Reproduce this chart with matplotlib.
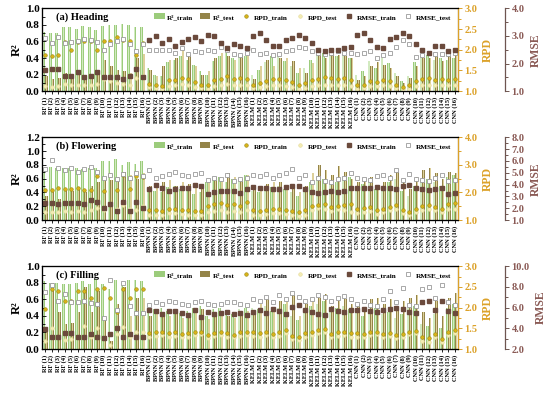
import numpy as np
import matplotlib
matplotlib.use('Agg')
from matplotlib import pyplot as plt
from matplotlib.patches import Patch
from matplotlib.lines import Line2D
from matplotlib.ticker import MultipleLocator

plt.rcParams['font.family'] = ['Liberation Serif', 'DejaVu Serif']
plt.rcParams['font.weight'] = 'bold'

# etiquetas del eje x
models = ['RF', 'BPNN', 'KELM', 'CNN']
labels = ['%s (%d)' % (m, i) for m in models for i in range(1, 17)]

# (a) Heading
a_r2_train = [0.71, 0.70, 0.70, 0.78, 0.78, 0.75, 0.79, 0.78, 0.74, 0.79, 0.80, 0.80, 0.81, 0.80, 0.77, 0.78,
              0.28, 0.20, 0.18, 0.35, 0.38, 0.42, 0.38, 0.32, 0.24, 0.20, 0.36, 0.42, 0.46, 0.40, 0.44, 0.42,
              0.20, 0.25, 0.35, 0.42, 0.44, 0.36, 0.30, 0.22, 0.28, 0.38, 0.44, 0.46, 0.45, 0.42, 0.44, 0.40,
              0.20, 0.24, 0.36, 0.28, 0.40, 0.34, 0.22, 0.12, 0.18, 0.35, 0.42, 0.44, 0.38, 0.40, 0.38, 0.40]
a_r2_test = [0.18, 0.15, 0.16, 0.22, 0.20, 0.20, 0.18, 0.20, 0.24, 0.38, 0.30, 0.26, 0.24, 0.22, 0.40, 0.45,
             0.25, 0.18, 0.30, 0.38, 0.40, 0.50, 0.44, 0.30, 0.20, 0.24, 0.40, 0.46, 0.42, 0.38, 0.44, 0.46,
             0.15, 0.30, 0.38, 0.30, 0.40, 0.40, 0.36, 0.28, 0.22, 0.34, 0.44, 0.40, 0.48, 0.44, 0.42, 0.40,
             0.14, 0.18, 0.30, 0.35, 0.32, 0.28, 0.18, 0.10, 0.16, 0.30, 0.40, 0.40, 0.42, 0.36, 0.42, 0.44]
a_rpd_train = [1.88, 1.86, 1.88, 2.18, 2.00, 2.18, 2.22, 2.20, 2.00, 2.20, 2.22, 2.32, 2.24, 2.20, 1.88, 2.16,
               1.18, 1.14, 1.12, 1.26, 1.28, 1.32, 1.30, 1.22, 1.16, 1.14, 1.26, 1.30, 1.36, 1.30, 1.32, 1.30,
               1.14, 1.20, 1.24, 1.30, 1.30, 1.26, 1.22, 1.14, 1.20, 1.26, 1.30, 1.34, 1.32, 1.30, 1.32, 1.28,
               1.14, 1.16, 1.24, 1.22, 1.26, 1.24, 1.16, 1.10, 1.14, 1.24, 1.30, 1.32, 1.28, 1.30, 1.28, 1.30]
a_rpd_test = [1.12, 1.10, 1.12, 1.18, 1.16, 1.16, 1.14, 1.16, 1.18, 1.30, 1.24, 1.20, 1.18, 1.16, 1.32, 1.36,
              1.10, 1.08, 1.06, 1.12, 1.14, 1.18, 1.14, 1.10, 1.08, 1.06, 1.12, 1.14, 1.18, 1.14, 1.16, 1.14,
              1.08, 1.10, 1.12, 1.14, 1.14, 1.12, 1.10, 1.06, 1.08, 1.12, 1.14, 1.16, 1.16, 1.14, 1.14, 1.12,
              1.06, 1.08, 1.12, 1.12, 1.14, 1.12, 1.08, 1.04, 1.06, 1.12, 1.14, 1.16, 1.14, 1.14, 1.14, 1.16]
a_rmse_train = [1.78, 1.80, 1.80, 1.54, 1.55, 1.68, 1.52, 1.55, 1.70, 1.52, 1.50, 1.50, 1.45, 1.55, 1.82, 1.52,
                2.85, 3.00, 2.75, 2.90, 2.65, 2.78, 2.88, 2.98, 2.80, 3.05, 3.00, 2.75, 2.55, 2.70, 2.62, 2.58,
                3.00, 3.10, 2.85, 2.65, 2.65, 2.85, 2.92, 3.05, 2.92, 2.75, 2.50, 2.45, 2.50, 2.50, 2.55, 2.60,
                3.05, 3.10, 2.85, 2.60, 2.55, 2.90, 2.95, 3.10, 3.00, 2.70, 2.50, 2.40, 2.62, 2.62, 2.45, 2.48]
a_rmse_test = [2.92, 2.75, 2.95, 2.75, 2.78, 2.80, 2.88, 2.85, 2.78, 2.50, 2.70, 2.82, 2.90, 2.72, 2.45, 2.72,
               2.50, 2.50, 2.48, 2.48, 2.40, 2.55, 2.35, 2.45, 2.42, 2.50, 2.45, 2.60, 2.50, 2.35, 2.30, 2.38,
               2.50, 2.35, 2.40, 2.30, 2.35, 2.45, 2.50, 2.60, 2.55, 2.45, 2.40, 2.35, 2.40, 2.45, 2.40, 2.40,
               2.35, 2.40, 2.45, 2.20, 2.30, 2.40, 2.60, 2.85, 2.70, 2.25, 2.30, 2.40, 2.35, 2.35, 2.35, 2.40]

# (b) Flowering
b_r2_train = [0.76, 0.77, 0.75, 0.76, 0.75, 0.76, 0.74, 0.76, 0.75, 0.86, 0.85, 0.88, 0.80, 0.84, 0.82, 0.86,
              0.45, 0.42, 0.40, 0.48, 0.50, 0.45, 0.42, 0.38, 0.40, 0.55, 0.60, 0.62, 0.55, 0.60, 0.58, 0.65,
              0.42, 0.40, 0.45, 0.48, 0.50, 0.45, 0.40, 0.35, 0.42, 0.55, 0.58, 0.60, 0.52, 0.55, 0.58, 0.62,
              0.48, 0.52, 0.55, 0.45, 0.50, 0.55, 0.60, 0.42, 0.35, 0.50, 0.58, 0.60, 0.55, 0.50, 0.62, 0.66]
b_r2_test = [0.35, 0.40, 0.30, 0.45, 0.42, 0.48, 0.40, 0.50, 0.55, 0.60, 0.58, 0.62, 0.70, 0.65, 0.60, 0.68,
             0.50, 0.52, 0.55, 0.58, 0.50, 0.55, 0.52, 0.48, 0.50, 0.60, 0.62, 0.58, 0.68, 0.62, 0.60, 0.65,
             0.48, 0.50, 0.52, 0.55, 0.55, 0.50, 0.45, 0.40, 0.50, 0.68, 0.80, 0.72, 0.65, 0.78, 0.70, 0.60,
             0.55, 0.60, 0.62, 0.50, 0.55, 0.65, 0.70, 0.58, 0.45, 0.62, 0.72, 0.75, 0.68, 0.60, 0.70, 0.68]
b_rpd_train = [2.10, 2.08, 2.15, 2.12, 2.12, 2.15, 2.10, 2.10, 2.60, 2.05, 2.62, 2.10, 2.65, 2.12, 2.60, 2.55,
               1.35, 1.35, 1.32, 1.40, 1.42, 1.38, 1.35, 1.32, 1.32, 1.50, 1.60, 1.62, 1.55, 1.60, 1.52, 1.65,
               1.35, 1.33, 1.38, 1.40, 1.42, 1.38, 1.33, 1.30, 1.36, 1.50, 1.55, 1.58, 1.48, 1.52, 1.55, 1.60,
               1.40, 1.45, 1.48, 1.38, 1.42, 1.48, 1.55, 1.35, 1.30, 1.42, 1.52, 1.55, 1.48, 1.42, 1.58, 1.62]
b_rpd_test = [1.30, 1.28, 1.30, 1.32, 1.30, 1.32, 1.28, 1.35, 1.45, 1.35, 1.60, 1.40, 1.55, 1.42, 1.38, 1.50,
              1.20, 1.20, 1.18, 1.25, 1.25, 1.22, 1.20, 1.18, 1.18, 1.28, 1.32, 1.35, 1.30, 1.32, 1.28, 1.35,
              1.20, 1.18, 1.22, 1.25, 1.26, 1.22, 1.18, 1.15, 1.20, 1.35, 1.45, 1.40, 1.32, 1.42, 1.38, 1.30,
              1.25, 1.30, 1.32, 1.22, 1.28, 1.35, 1.40, 1.25, 1.18, 1.30, 1.38, 1.42, 1.35, 1.30, 1.40, 1.42]
b_rmse_train = [2.45, 2.48, 2.40, 2.45, 2.48, 2.45, 2.40, 2.70, 2.50, 2.00, 2.40, 1.75, 2.55, 1.80, 2.50, 2.00,
                3.65, 4.00, 3.70, 3.50, 3.60, 3.75, 3.70, 4.00, 3.85, 3.20, 3.40, 3.50, 3.45, 3.50, 3.30, 3.60,
                3.80, 3.75, 3.70, 3.65, 3.60, 3.80, 3.90, 3.85, 3.60, 3.40, 3.30, 3.35, 3.50, 3.40, 3.45, 3.75,
                3.70, 3.75, 3.70, 3.80, 3.75, 3.70, 3.65, 3.90, 3.95, 3.75, 3.60, 3.55, 3.65, 3.70, 3.20, 3.25]
b_rmse_test = [5.30, 6.10, 5.40, 5.20, 5.40, 5.10, 5.30, 5.45, 5.10, 4.60, 4.80, 4.50, 4.90, 4.60, 5.00, 4.70,
               5.20, 4.60, 4.70, 4.90, 5.10, 4.80, 4.70, 4.90, 5.00, 4.40, 4.60, 4.50, 4.80, 4.30, 4.50, 4.60,
               4.80, 4.70, 4.90, 4.60, 4.80, 5.00, 5.30, 4.60, 4.80, 4.20, 4.60, 4.30, 4.20, 4.50, 4.60, 5.00,
               4.60, 4.50, 4.40, 4.70, 4.80, 4.60, 5.20, 4.40, 4.90, 4.50, 4.40, 4.30, 4.60, 4.80, 4.30, 4.40]

# (c) Filling
c_r2_train = [0.82, 0.80, 0.80, 0.78, 0.78, 0.80, 0.82, 0.78, 0.85, 0.78, 0.72, 0.83, 0.80, 0.83, 0.83, 0.82,
              0.45, 0.48, 0.50, 0.46, 0.48, 0.44, 0.46, 0.50, 0.52, 0.40, 0.48, 0.50, 0.46, 0.42, 0.48, 0.50,
              0.50, 0.48, 0.52, 0.46, 0.50, 0.55, 0.40, 0.35, 0.48, 0.52, 0.55, 0.58, 0.45, 0.50, 0.52, 0.48,
              0.45, 0.40, 0.48, 0.50, 0.42, 0.45, 0.38, 0.42, 0.50, 0.52, 0.30, 0.28, 0.42, 0.25, 0.50, 0.55]
c_r2_test = [0.25, 0.80, 0.45, 0.30, 0.32, 0.45, 0.75, 0.45, 0.70, 0.35, 0.10, 0.55, 0.75, 0.40, 0.62, 0.62,
             0.40, 0.42, 0.45, 0.40, 0.44, 0.38, 0.42, 0.46, 0.48, 0.36, 0.44, 0.46, 0.40, 0.38, 0.44, 0.46,
             0.45, 0.55, 0.60, 0.50, 0.58, 0.62, 0.65, 0.40, 0.55, 0.60, 0.62, 0.66, 0.52, 0.58, 0.60, 0.55,
             0.55, 0.50, 0.60, 0.62, 0.55, 0.60, 0.50, 0.58, 0.62, 0.65, 0.45, 0.38, 0.58, 0.40, 0.62, 0.68]
c_rpd_train = [1.96, 2.44, 2.40, 2.16, 2.16, 2.40, 2.40, 2.24, 2.44, 2.48, 2.24, 1.90, 2.46, 2.24, 2.44, 2.46,
               1.38, 1.40, 1.40, 1.38, 1.40, 1.36, 1.38, 1.40, 1.42, 1.34, 1.38, 1.40, 1.38, 1.34, 1.40, 1.42,
               1.40, 1.38, 1.42, 1.36, 1.40, 1.45, 1.32, 1.28, 1.38, 1.42, 1.45, 1.48, 1.36, 1.40, 1.42, 1.38,
               1.38, 1.36, 1.40, 1.42, 1.36, 1.38, 1.34, 1.36, 1.42, 1.44, 1.30, 1.26, 1.36, 1.24, 1.42, 1.45]
c_rpd_test = [1.20, 1.50, 1.30, 1.22, 1.24, 1.30, 1.56, 1.30, 1.50, 1.26, 1.10, 1.36, 1.54, 1.28, 1.40, 1.40,
              1.30, 1.32, 1.34, 1.30, 1.32, 1.28, 1.30, 1.34, 1.36, 1.26, 1.32, 1.34, 1.30, 1.28, 1.32, 1.34,
              1.32, 1.30, 1.34, 1.28, 1.32, 1.38, 1.25, 1.22, 1.30, 1.34, 1.38, 1.40, 1.28, 1.32, 1.34, 1.30,
              1.30, 1.28, 1.34, 1.36, 1.30, 1.32, 1.26, 1.30, 1.36, 1.38, 1.20, 1.16, 1.30, 1.16, 1.34, 1.38]
c_rmse_train = [3.92, 3.12, 3.20, 3.52, 3.52, 3.20, 3.20, 3.44, 3.12, 3.04, 3.44, 4.08, 3.12, 3.44, 3.12, 3.12,
                5.80, 5.70, 5.40, 5.70, 5.70, 5.50, 5.30, 5.80, 5.10, 5.60, 5.40, 5.50, 5.60, 5.40, 5.50, 5.30,
                5.60, 5.80, 5.50, 5.90, 5.70, 5.40, 6.10, 6.30, 5.80, 5.60, 5.40, 5.30, 5.90, 5.70, 5.60, 5.80,
                5.80, 5.90, 5.70, 5.60, 5.80, 5.90, 6.00, 5.90, 5.60, 5.50, 6.50, 6.60, 5.80, 6.60, 5.70, 5.50]
c_rmse_test = [7.52, 8.16, 6.64, 7.36, 6.56, 6.56, 6.64, 6.48, 6.40, 5.04, 8.72, 5.76, 8.40, 6.16, 5.44, 5.44,
               6.30, 6.50, 6.40, 6.60, 6.50, 6.40, 6.30, 6.50, 6.60, 6.40, 6.30, 6.40, 6.50, 6.50, 6.40, 6.30,
               6.80, 6.60, 7.00, 6.50, 7.20, 6.80, 7.40, 7.00, 6.60, 6.80, 7.20, 7.00, 6.60, 6.90, 7.10, 6.80,
               6.40, 6.60, 6.30, 6.20, 6.80, 7.60, 6.50, 7.90, 6.30, 6.20, 7.80, 8.00, 6.90, 8.20, 6.50, 6.30]

# colores
c_train_out, c_train_in = '#9ccc7c', '#d2eac0'
c_test_out, c_test_in = '#948449', '#ddd09a'
c_rpd_tr = '#d8b318'
c_rpd_te = '#f3ecb4'
c_rmse_tr = '#6b4a3c'
c_rmse_te = '#9a9a9a'
c_rpd_axis = '#dca22a'
c_rmse_axis = '#8a5a55'

fig = plt.figure(figsize=(5.5, 3.98), dpi=100)

panels = [
    ('(a) Heading', a_r2_train, a_r2_test, a_rpd_train, a_rpd_test, a_rmse_train, a_rmse_test,
     (0.0, 1.0, 0.2), (1.0, 3.0, 0.5), (1.0, 4.0, 1.0), 0.771),
    ('(b) Flowering', b_r2_train, b_r2_test, b_rpd_train, b_rpd_test, b_rmse_train, b_rmse_test,
     (0.0, 1.2, 0.2), (1.0, 4.0, 1.0), (1.0, 8.0, 1.0), 0.447),
    ('(c) Filling', c_r2_train, c_r2_test, c_rpd_train, c_rpd_test, c_rmse_train, c_rmse_test,
     (0.0, 1.0, 0.2), (1.0, 3.0, 0.5), (2.0, 10.0, 2.0), 0.123),
]

x = np.arange(len(labels))
w = 0.4

for (title, r2tr, r2te, rpdtr, rpdte, rmsetr, rmsete, rlim, plim, mlim, bottom) in panels:
    ax = fig.add_axes([0.076, bottom, 0.757, 0.208])

    # barras con un centro mas claro para imitar el degradado
    ax.bar(x - 0.2, r2tr, width=w, color=c_train_out, linewidth=0)
    ax.bar(x - 0.2, r2tr, width=w * 0.45, color=c_train_in, linewidth=0)
    ax.bar(x + 0.2, r2te, width=w, color=c_test_out, linewidth=0)
    ax.bar(x + 0.2, r2te, width=w * 0.45, color=c_test_in, linewidth=0)

    ax.set_xlim(-0.5, len(labels) - 0.5)
    ax.set_ylim(rlim[0], rlim[1])
    ax.yaxis.set_minor_locator(MultipleLocator(rlim[2] / 2))
    rt = np.arange(rlim[0], rlim[1] + 0.001, rlim[2])
    ax.set_yticks(rt)
    ax.set_yticklabels(['%.1f' % v for v in rt], fontsize=8, fontweight='bold')
    ax.set_xticks(x)
    ax.set_xticklabels(labels, rotation=90, fontsize=4.6, fontweight='bold')
    ax.tick_params(axis='x', direction='out', length=2.5, width=0.6, pad=1.5)
    ax.tick_params(axis='y', which='both', direction='in', length=3, width=0.6, pad=1.5)
    ax.tick_params(axis='y', which='minor', length=1.8)
    ax.set_ylabel('R²', fontsize=9, fontweight='bold', labelpad=2)
    for s in ax.spines.values():
        s.set_linewidth(0.8)
    ax.text(0.035, 0.86, title, transform=ax.transAxes, fontsize=7.5, fontweight='bold')

    # eje RPD
    ax2 = ax.twinx()
    ax2.plot(x, rpdte, 'o', ms=2.6, color=c_rpd_te, mec='#e6dc9a', mew=0.4)
    ax2.plot(x, rpdtr, 'o', ms=2.6, color=c_rpd_tr, mec='#9c8a18', mew=0.4)
    ax2.set_ylim(plim[0], plim[1])
    pt = np.arange(plim[0], plim[1] + 0.001, plim[2])
    ax2.set_yticks(pt)
    ax2.set_yticklabels(['%.1f' % v for v in pt], fontsize=7.5, fontweight='bold', color=c_rpd_axis)
    ax2.yaxis.set_minor_locator(MultipleLocator(plim[2] / 2))
    ax2.tick_params(axis='y', which='both', direction='out', length=3, width=0.7,
                    color=c_rpd_axis, pad=1.5)
    ax2.tick_params(axis='y', which='minor', length=1.8)
    ax2.spines['right'].set_color(c_rpd_axis)
    ax2.spines['right'].set_linewidth(0.9)
    ax2.set_ylabel('RPD', fontsize=8.5, fontweight='bold', color=c_rpd_axis, labelpad=3)

    # eje RMSE
    ax3 = ax.twinx()
    ax3.spines['right'].set_position(('axes', 1.113))
    ax3.plot(x, rmsete, 's', ms=3.0, mfc='white', mec=c_rmse_te, mew=0.6)
    ax3.plot(x, rmsetr, 's', ms=3.0, color=c_rmse_tr, mec=c_rmse_tr)
    ax3.set_ylim(mlim[0], mlim[1])
    mt = np.arange(mlim[0], mlim[1] + 0.001, mlim[2])
    ax3.set_yticks(mt)
    ax3.set_yticklabels(['%.1f' % v for v in mt], fontsize=7.5, fontweight='bold', color=c_rmse_axis)
    ax3.yaxis.set_minor_locator(MultipleLocator(mlim[2] / 2))
    ax3.tick_params(axis='y', which='both', direction='out', length=3, width=0.7,
                    color='#6e5550', pad=1.5)
    ax3.tick_params(axis='y', which='minor', length=1.8)
    ax3.spines['right'].set_color('#6e5550')
    ax3.spines['right'].set_linewidth(0.9)
    ax3.set_ylabel('RMSE', fontsize=8.5, fontweight='bold', color=c_rmse_axis, labelpad=4)

    handles = [
        Patch(facecolor=c_train_out, edgecolor='none'),
        Patch(facecolor=c_test_out, edgecolor='none'),
        Line2D([], [], ls='', marker='o', ms=2.6, color=c_rpd_tr, mec='#9c8a18', mew=0.4),
        Line2D([], [], ls='', marker='o', ms=2.6, color=c_rpd_te, mec='#e6dc9a', mew=0.4),
        Line2D([], [], ls='', marker='s', ms=3.0, color=c_rmse_tr),
        Line2D([], [], ls='', marker='s', ms=3.0, mfc='white', mec=c_rmse_te, mew=0.6),
    ]
    names = ['R²_train', 'R²_test', 'RPD_train', 'RPD_test', 'RMSE_train', 'RMSE_test']
    leg = ax3.legend(handles, names, loc='upper right', bbox_to_anchor=(0.995, 1.0), ncol=6,
                     frameon=False, prop={'size': 5.2, 'weight': 'bold'},
                     handlelength=1.5, handleheight=0.9, columnspacing=0.9, handletextpad=0.3,
                     borderaxespad=0.3)

fig.savefig('out.png', dpi=100)
